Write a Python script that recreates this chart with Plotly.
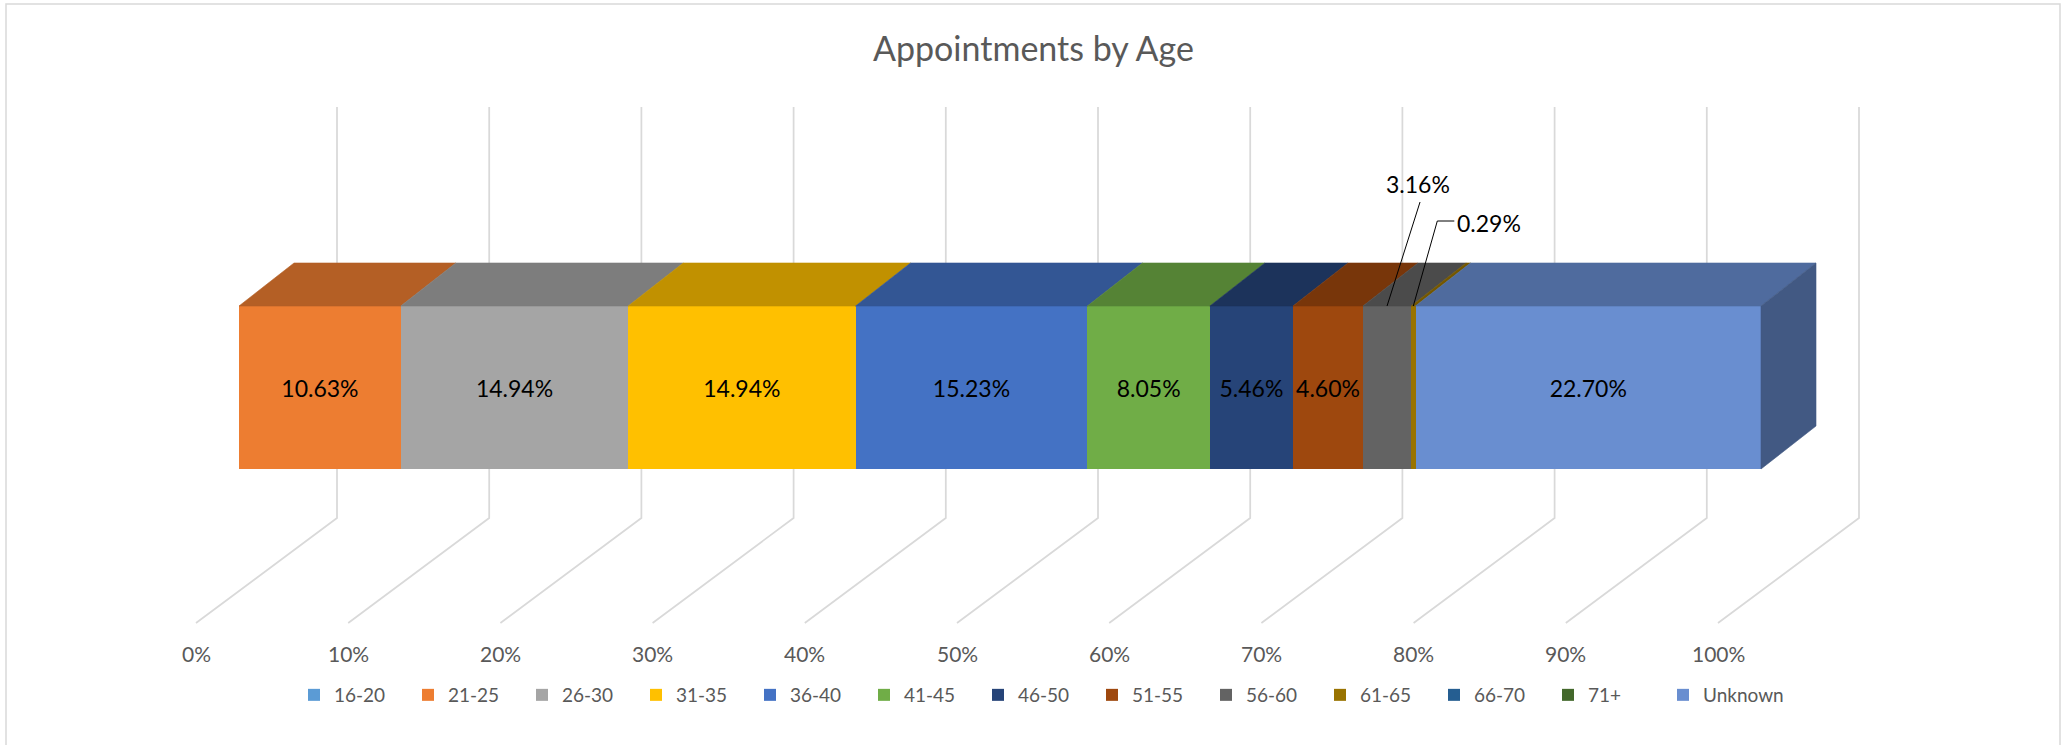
import plotly.graph_objects as go

# ---------------- data ----------------
age_groups = ["16-20", "21-25", "26-30", "31-35", "36-40", "41-45", "46-50",
              "51-55", "56-60", "61-65", "66-70", "71+", "Unknown"]
shares_pct = [0.00, 10.63, 14.94, 14.94, 15.23, 8.05, 5.46,
              4.60, 3.16, 0.29, 0.00, 0.00, 22.70]
tick_values = [0, 10, 20, 30, 40, 50, 60, 70, 80, 90, 100]
tick_labels = ["0%", "10%", "20%", "30%", "40%", "50%", "60%", "70%", "80%", "90%", "100%"]
title_text = "Appointments by Age"

# ---------------- styles ----------------
series_colors = ["#5B9BD5", "#ED7D31", "#A5A5A5", "#FFC000", "#4472C4", "#70AD47", "#264478",
                 "#9E480E", "#636363", "#997300", "#255E91", "#43682B", "#698ED0"]
FONT = "Lato"
TEXT_GREY = "#595959"
GRID_COLOR = "#D9D9D9"

# ---------------- geometry (pixels) ----------------
W, H = 2067, 745
PX = 15.22            # pixels per 1 %
X0 = 239              # pixel position of 0 % on the bar front face
x_lo, x_hi = -X0 / PX, (W - X0) / PX
BAR_TOP, BAR_BOT = 306, 469
DEPTH_DX, DEPTH_DY = 55, 43
GRID_TOP, GRID_KNEE, GRID_BOT = 107, 518, 623
GRID_BACK_DX, GRID_FRONT_DX = 98, -43
TICK_Y = 653
LEGEND_Y = 695
LEGEND_X1, LEGEND_X2 = 294, 1663
# outside labels: label offset (dx, dy) and leader points offsets from anchor
CALLOUTS = {
    "56-60": dict(label=(31, -122), leader=[(0, 0), (33, -104)]),
    "61-65": dict(label=(76, -83), leader=[(0, 0), (24, -85), (41, -85)]),
}
INSIDE_MIN = 4.0


def dx(p):
    return p / PX


def shade(hex_color, f):
    h = hex_color.lstrip("#")
    r, g, b = (int(h[i:i + 2], 16) for i in (0, 2, 4))
    return "#{:02X}{:02X}{:02X}".format(int(r * f), int(g * f), int(b * f))


fig = go.Figure()

# front faces (stacked bars)
for i, (name, val, col) in enumerate(zip(age_groups, shares_pct, series_colors)):
    fig.add_trace(go.Bar(
        x=[val], y=[(BAR_TOP + BAR_BOT) / 2], width=BAR_BOT - BAR_TOP,
        orientation="h", name=name,
        legend="legend2" if i == len(age_groups) - 1 else "legend",
        marker=dict(color=col, line=dict(width=0)),
        text=["{:.2f}%".format(val) if val >= INSIDE_MIN else ""],
        textposition="inside", insidetextanchor="middle", constraintext="none",
        textfont=dict(family=FONT, size=23, color="#000000"),
        hoverinfo="name+x",
    ))

# top faces and end face
cum = 0.0
last_right = 0.0
for name, val, col in zip(age_groups, shares_pct, series_colors):
    if val <= 0:
        continue
    left, right = cum, cum + val
    cum = right
    last_right = right
    top_col = shade(col, 0.76)
    fig.add_trace(go.Scatter(
        x=[left, right, right + dx(DEPTH_DX), left + dx(DEPTH_DX), left],
        y=[BAR_TOP, BAR_TOP, BAR_TOP - DEPTH_DY, BAR_TOP - DEPTH_DY, BAR_TOP],
        fill="toself", fillcolor=top_col, mode="lines",
        line=dict(color=top_col, width=0.6), showlegend=False, hoverinfo="skip",
    ))
end_col = shade(series_colors[-1], 0.63)
fig.add_trace(go.Scatter(
    x=[last_right, last_right + dx(DEPTH_DX), last_right + dx(DEPTH_DX), last_right, last_right],
    y=[BAR_TOP, BAR_TOP - DEPTH_DY, BAR_BOT - DEPTH_DY, BAR_BOT, BAR_TOP],
    fill="toself", fillcolor=end_col, mode="lines",
    line=dict(color=end_col, width=0.6), showlegend=False, hoverinfo="skip",
))

# callouts for small segments
annotations = []
cum = 0.0
for name, val in zip(age_groups, shares_pct):
    mid = cum + val / 2
    cum += val
    if name in CALLOUTS:
        c = CALLOUTS[name]
        fig.add_trace(go.Scatter(
            x=[mid + dx(p[0]) for p in c["leader"]],
            y=[BAR_TOP + p[1] for p in c["leader"]],
            mode="lines", line=dict(color="#000000", width=1),
            showlegend=False, hoverinfo="skip",
        ))
        annotations.append(dict(
            x=mid + dx(c["label"][0]), y=BAR_TOP + c["label"][1], xref="x", yref="y",
            text="{:.2f}%".format(val), showarrow=False,
            font=dict(family=FONT, size=23, color="#000000"),
        ))

# axis tick labels on the floor front edge
for v, lab in zip(tick_values, tick_labels):
    annotations.append(dict(
        x=v + dx(GRID_FRONT_DX), y=TICK_Y, xref="x", yref="y", text=lab,
        showarrow=False, font=dict(family=FONT, size=21, color=TEXT_GREY),
    ))

# gridlines (back wall + floor) drawn below the bars
shapes = []
for v in tick_values:
    xb = v + dx(GRID_BACK_DX)
    xf = v + dx(GRID_FRONT_DX)
    shapes.append(dict(
        type="path", xref="x", yref="y", layer="below",
        path="M{0},{1} L{0},{2} L{3},{4}".format(xb, GRID_TOP, GRID_KNEE, xf, GRID_BOT),
        line=dict(color=GRID_COLOR, width=1.75),
    ))
# chart area border
shapes.append(dict(
    type="rect", xref="paper", yref="paper", layer="below",
    x0=6 / W, x1=2060 / W, y0=-0.2, y1=1 - 4 / H,
    line=dict(color=GRID_COLOR, width=1.5), fillcolor="rgba(0,0,0,0)",
))

legend_style = dict(orientation="h", y=1 - LEGEND_Y / H, yanchor="middle", xanchor="left",
                    font=dict(family=FONT, size=19, color=TEXT_GREY), itemwidth=30,
                    bgcolor="rgba(0,0,0,0)", traceorder="normal")

fig.update_layout(
    width=W, height=H,
    margin=dict(l=0, r=0, t=0, b=0),
    paper_bgcolor="white", plot_bgcolor="white",
    barmode="stack",
    title=dict(text=title_text, x=0.5, xanchor="center", xref="paper",
               y=1 - 49 / H, yref="container", yanchor="middle",
               font=dict(family=FONT, size=34, color=TEXT_GREY)),
    xaxis=dict(range=[x_lo, x_hi], visible=False, fixedrange=True),
    yaxis=dict(range=[H, 0], visible=False, fixedrange=True),
    legend=dict(x=LEGEND_X1 / W, entrywidth=69, entrywidthmode="pixels", **legend_style),
    legend2=dict(x=LEGEND_X2 / W, **legend_style),
    shapes=shapes,
    annotations=annotations,
    showlegend=True,
)

fig.write_html("out.html", config={"displayModeBar": False},
               post_script="document.body.style.margin='0px';")
